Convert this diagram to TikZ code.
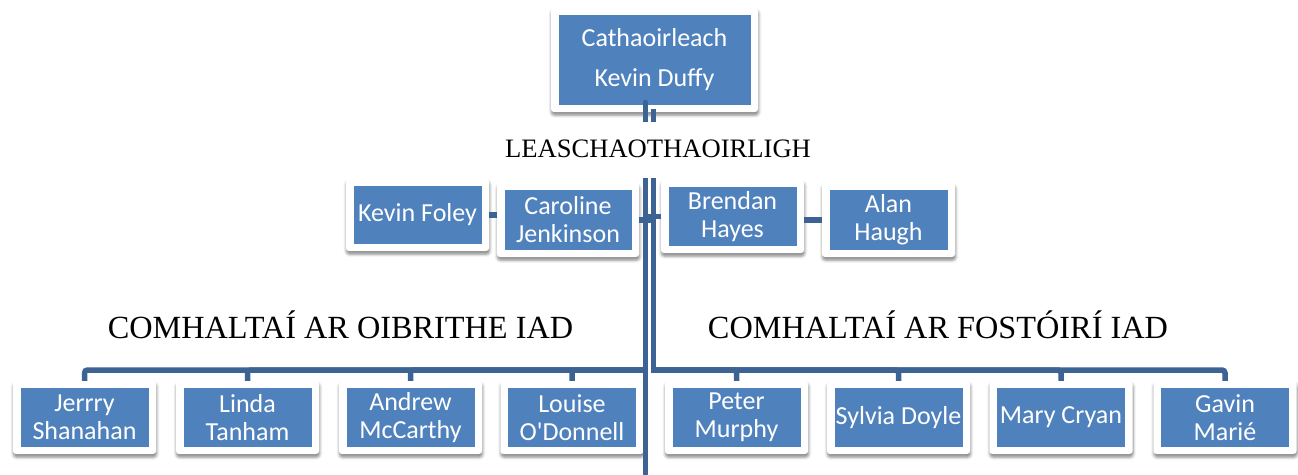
\documentclass[tikz,border=0pt]{standalone}
\usepackage{fontspec}
\setmainfont{Liberation Serif}
\newfontfamily\boxfont{Carlito}
\usetikzlibrary{shadows.blur}
\definecolor{boxblue}{RGB}{79,129,189}
\definecolor{conncol}{RGB}{60,99,148}
\tikzset{
  orgbox/.style={fill=white, rounded corners=3pt, inner sep=0pt, text=white, align=center,
    font=\boxfont\fontsize{26}{28}\selectfont,
    minimum width=143pt, minimum height=73pt,
    blur shadow={shadow xshift=0.5pt, shadow yshift=-3pt, shadow blur radius=3pt, shadow opacity=50},
    path picture={\fill[boxblue, sharp corners] ([shift={(7.5pt,-7pt)}]path picture bounding box.north west) rectangle ([shift={(-7.5pt,7pt)}]path picture bounding box.south east);}},
  conn/.style={draw=conncol, line width=5.5pt},
  heading/.style={font=\fontsize{32.3}{34}\selectfont, anchor=base, inner sep=0pt},
}
\begin{document}
\begin{tikzpicture}[x=1pt, y=-1pt]
\useasboundingbox (0,0) rectangle (1298,474);
% top
\node[orgbox, minimum width=207pt, minimum height=104pt, font=\boxfont\fontsize{26}{40}\selectfont] (top) at (654.5,60) {Cathaoirleach\\Kevin Duffy};
% vice chairs
\node[orgbox, minimum height=72pt] (kevin) at (417.5,215) {Kevin Foley};
\node[orgbox, minimum width=142pt, minimum height=74pt] (caroline) at (568,220) {Caroline\\Jenkinson};
\node[orgbox] (brendan) at (732.5,216.5) {Brendan\\Hayes};
\node[orgbox, minimum width=133pt, minimum height=74pt] (alan) at (888.5,220) {Alan\\Haugh};
% workers
\node[orgbox] (jerry) at (84.5,417.5) {Jerrry\\Shanahan};
\node[orgbox] (linda) at (247.5,417.5) {Linda\\Tanham};
\node[orgbox] (andrew) at (410.5,417.5) {Andrew\\McCarthy};
\node[orgbox] (louise) at (572,417.5) {Louise\\O'Donnell};
% employers
\node[orgbox] (peter) at (736.5,417.5) {Peter\\Murphy};
\node[orgbox] (sylvia) at (898.5,417.5) {Sylvia Doyle};
\node[orgbox] (mary) at (1061,417.5) {Mary Cryan};
\node[orgbox] (gavin) at (1225,417.5) {Gavin\\Marié};
% junctions
\coordinate (l1a) at (645.5,102.5);
\coordinate (l1b) at (645.5,474);
\coordinate (l2a) at (653.5,112);
\coordinate (j1) at (645.5,370);
\coordinate (j2) at (653.5,370);
% connectors
\draw[conn, line cap=round] (l1a) -- (l1b);
\draw[conn, line cap=rect] (l2a) -- (j2);
\foreach \n in {jerry,linda,andrew,louise} \draw[conn, rounded corners=3pt] (j1) -| (\n.north);
\foreach \n in {peter,sylvia,mary,gavin} \draw[conn, rounded corners=3pt] (j2) -| (\n.north);
\draw[conn] (kevin.east) -- (kevin.east -| caroline.west);
\draw[conn] (caroline.east) -- ([xshift=2.5pt]caroline.east -| j2);
\draw[conn] (brendan.west) -- ([xshift=-2.5pt]brendan.west -| j1);
\draw[conn] (alan.west) -- (alan.west -| brendan.east);
% headings
\node[fill=white, inner xsep=4pt, inner ysep=0pt, text height=35pt, text depth=21pt, anchor=base, font=\fontsize{26.6}{28}\selectfont] (vh) at (658,157) {LEASCHAOTHAOIRLIGH};
\node[heading] (lh) at (340.5,338) {COMHALTAÍ AR OIBRITHE IAD};
\node[heading] (rh) at (938,338) {COMHALTAÍ AR FOSTÓIRÍ IAD};
\end{tikzpicture}
\end{document}
